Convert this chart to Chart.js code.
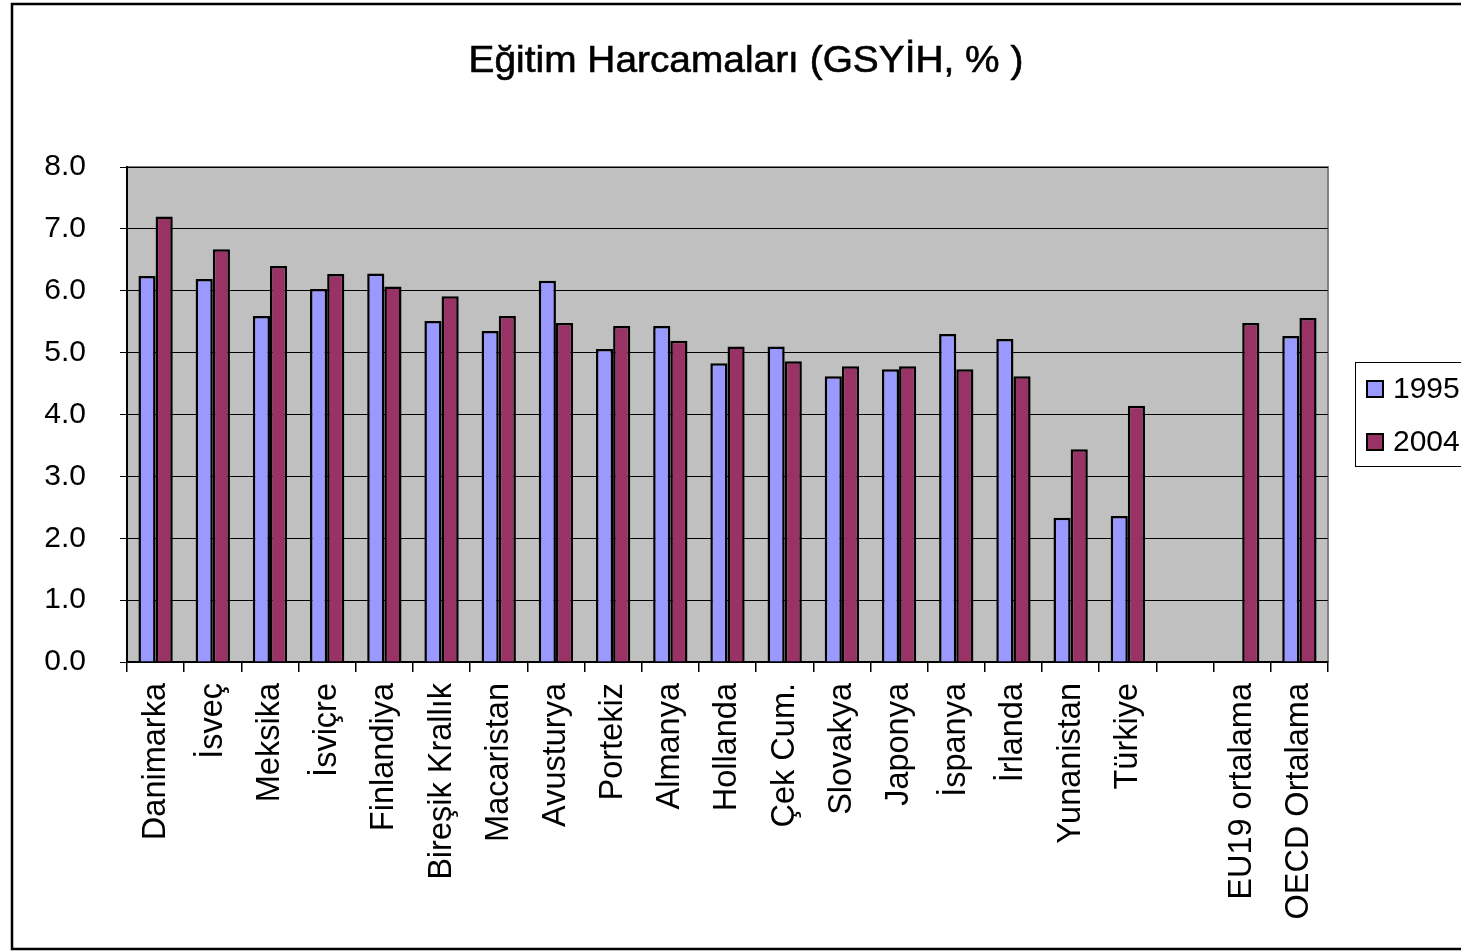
<!DOCTYPE html>
<html>
<head>
<meta charset="utf-8">
<script src="https://cdn.jsdelivr.net/npm/chart.js@4.4.0/dist/chart.umd.min.js"></script>
<style>
  html, body { margin: 0; padding: 0; background: #fff; }
  #wrap { width: 1461px; height: 952px; position: relative; }
</style>
</head>
<body>
<div id="wrap"><canvas id="myChart" width="1461" height="952"></canvas></div>
<script>
const chartTitle = 'Eğitim Harcamaları (GSYİH, % )';
const categories = ['Danimarka', 'İsveç', 'Meksika', 'İsviçre', 'Finlandiya', 'Bireşik Krallık',
    'Macaristan', 'Avusturya', 'Portekiz', 'Almanya', 'Hollanda', 'Çek Cum.', 'Slovakya',
    'Japonya', 'İspanya', 'İrlanda', 'Yunanistan', 'Türkiye', '', 'EU19 ortalama', 'OECD Ortalama'];
const seriesNames = ['1995', '2004'];
const values1995 = [6.24, 6.19, 5.59, 6.03, 6.28, 5.51, 5.35, 6.16, 5.06, 5.43, 4.83, 5.10, 4.62,
    4.73, 5.30, 5.22, 2.33, 2.36, null, null, 5.27];
const values2004 = [7.20, 6.67, 6.40, 6.27, 6.07, 5.91, 5.59, 5.48, 5.43, 5.19, 5.10, 4.86, 4.78,
    4.78, 4.73, 4.62, 3.44, 4.14, null, 5.48, 5.56];
const yTicks = [0, 1, 2, 3, 4, 5, 6, 7, 8];

const FONT = 'Liberation Sans, Arial, sans-serif';

// grey plot area, frame, title and boxed legend
const decor = {
    id: 'decor',
    beforeDraw(chart) {
        const c = chart.ctx, a = chart.chartArea;
        c.save();
        c.fillStyle = '#fff';
        c.fillRect(0, 0, chart.width, chart.height);
        c.fillStyle = '#C0C0C0';
        c.fillRect(a.left, a.top, a.right - a.left, a.bottom - a.top);
        c.strokeStyle = '#808080';
        c.lineWidth = 2;
        c.beginPath();
        c.moveTo(a.left, a.top);
        c.lineTo(a.right, a.top);
        c.lineTo(a.right, a.bottom);
        c.stroke();
        c.restore();
    },
    afterDraw(chart) {
        const c = chart.ctx;
        c.save();
        c.strokeStyle = '#000';
        c.lineWidth = 2.5;
        c.strokeRect(12, 4, 1500, 945);
        // title, slightly widened like the original
        c.save();
        c.translate(746, 62);
        c.scale(1.05, 1);
        c.fillStyle = '#000';
        c.strokeStyle = '#000';
        c.lineWidth = 0.6;
        c.font = '37px ' + FONT;
        c.textAlign = 'center';
        c.textBaseline = 'middle';
        c.fillText(chartTitle, 0, 0);
        c.strokeText(chartTitle, 0, 0);
        c.restore();
        // legend
        c.lineWidth = 1;
        c.strokeRect(1355.5, 362.5, 200, 104);
        c.font = '30px ' + FONT;
        c.textAlign = 'left';
        c.textBaseline = 'middle';
        chart.data.datasets.forEach((ds, i) => {
            const y = 389 + i * 53;
            c.fillStyle = ds.backgroundColor;
            c.fillRect(1367, y - 8, 16, 16);
            c.lineWidth = 2;
            c.strokeStyle = '#000';
            c.strokeRect(1367, y - 8, 16, 16);
            c.fillStyle = '#000';
            c.fillText(ds.label, 1393, y + 1);
        });
        c.restore();
    }
};

const ctx = document.getElementById('myChart').getContext('2d');
const myChart = new Chart(ctx, {
    type: 'bar',
    data: {
        labels: categories,
        datasets: [{
            label: seriesNames[0],
            data: values1995,
            backgroundColor: '#9999FF',
            borderColor: '#000',
            borderWidth: 2.5
        }, {
            label: seriesNames[1],
            data: values2004,
            backgroundColor: '#993366',
            borderColor: '#000',
            borderWidth: 2.5
        }]
    },
    options: {
        responsive: false,
        animation: false,
        devicePixelRatio: 1,
        categoryPercentage: 0.6,
        barPercentage: 1.0,
        layout: { padding: { left: 0, right: 133, top: 167, bottom: 0 } },
        plugins: {
            legend: { display: false },
            title: { display: false },
            tooltip: { enabled: false }
        },
        scales: {
            x: {
                offset: true,
                afterFit(scale) { scale.height = 290; },
                grid: {
                    offset: true,
                    drawOnChartArea: false,
                    drawTicks: true,
                    tickLength: 10,
                    color: '#000',
                    lineWidth: 1.5
                },
                border: { color: '#000', width: 2 },
                ticks: {
                    autoSkip: false,
                    minRotation: 90,
                    maxRotation: 90,
                    padding: 11,
                    color: '#000',
                    font: { family: FONT, size: 32.5 }
                }
            },
            y: {
                min: 0,
                max: 8,
                afterFit(scale) { scale.width = 127; },
                afterBuildTicks(scale) { scale.ticks = yTicks.map(v => ({ value: v })); },
                grid: {
                    color: '#000',
                    lineWidth: 1,
                    drawTicks: true,
                    tickLength: 7
                },
                border: { color: '#000', width: 2 },
                ticks: {
                    padding: 34,
                    color: '#000',
                    font: { family: FONT, size: 30 },
                    callback: v => Number(v).toFixed(1)
                }
            }
        }
    },
    plugins: [decor]
});
</script>
</body>
</html>
